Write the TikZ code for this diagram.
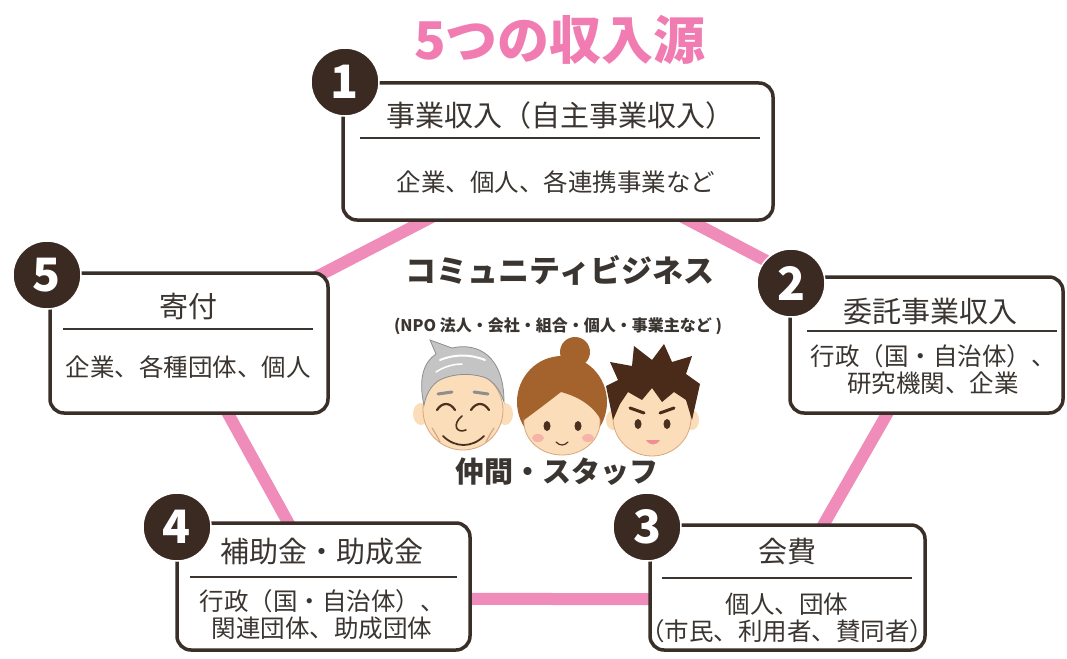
\documentclass[tikz,border=0pt]{standalone}
\usepackage{fontspec}
\newfontfamily\jp{Noto Sans CJK JP}
\pgfdeclarelayer{bg}
\pgfdeclarelayer{paper}
\pgfsetlayers{paper,bg,main}
\definecolor{boxc}{HTML}{3A2F28}
\definecolor{discc}{HTML}{3B2A22}
\definecolor{txtc}{HTML}{3A3530}
\definecolor{linkc}{HTML}{F08CBA}
\definecolor{titlec}{HTML}{F07CB2}
\definecolor{skin}{HTML}{FBDDB9}
\definecolor{skinline}{HTML}{D9A77C}
\definecolor{hairgrey}{HTML}{C4C4C4}
\definecolor{hairgreyd}{HTML}{8E8E8E}
\definecolor{hairbrown}{HTML}{A4622C}
\definecolor{hairdark}{HTML}{4A2A18}
\definecolor{eyec}{HTML}{4A3020}
\definecolor{cheek}{HTML}{F6B3A8}
\definecolor{lip}{HTML}{F08E98}
\tikzset{
  srcbox/.style={draw=boxc, line width=3.5pt, rounded corners=14pt, fill=white},
  numdisc/.style={circle, fill=discc, draw=white, line width=1.5pt, minimum size=68pt,
    inner sep=0pt, text=white, font=\jp\bfseries\fontsize{46}{46}\selectfont},
  ttl/.style={font=\jp\fontsize{29}{31}\selectfont, text=txtc, inner sep=0pt},
  subtxt/.style={font=\jp\fontsize{24.5}{27}\selectfont, text=txtc, align=center, inner sep=0pt},
  titlerule/.style={draw=txtc, line width=1.8pt},
  link/.style={draw=linkc, line width=12pt},
  bigbold/.style={font=\jp\bfseries\fontsize{31}{31}\selectfont, text=txtc, inner sep=0pt},
  faceline/.style={draw=skinline, line width=0.8pt},
  feature/.style={draw=eyec, line width=2.2pt, line cap=round},
}
\begin{document}
\begin{tikzpicture}[x=1pt,y=-1pt]
\begin{pgfonlayer}{paper}
\fill[white] (0,0) rectangle (1067,658);
\end{pgfonlayer}
\useasboundingbox (0,0) rectangle (1067,658);

% heading
\node[font=\jp\bfseries\fontsize{52}{52}\selectfont, text=titlec] (title) at (560,40) {5つの収入源};

% the five income boxes
\node[srcbox, minimum width=430pt, minimum height=137pt] (b1) at (558,151.5) {};
\node[srcbox, minimum width=273pt, minimum height=136pt] (b2) at (926.5,345) {};
\node[srcbox, minimum width=275pt, minimum height=125pt] (b3) at (787.5,587.5) {};
\node[srcbox, minimum width=293pt, minimum height=127pt] (b4) at (323.5,586.5) {};
\node[srcbox, minimum width=278pt, minimum height=140pt] (b5) at (189,343) {};

% pink pentagon joining the boxes
\begin{pgfonlayer}{bg}
\draw[link] (b1.center) -- (b2.center);
\draw[link] (b2.center) -- (b3.center);
\draw[link] ([yshift=-12pt]b3.center) -- ([yshift=-12pt]b4.center);
\draw[link] (b4.center) -- (b5.center);
\draw[link] (b5.center) -- (b1.center);
\end{pgfonlayer}

% box 1
\node[ttl] (t1) at (560,115) {事業収入（自主事業収入）};
\draw[titlerule] (360,138) -- (760,138);
\node[subtxt] (s1) at (556,182) {企業、個人、各連携事業など};
% box 2
\node[ttl] (t2) at (930,312) {委託事業収入};
\draw[titlerule] (807,331) -- (1057,331);
\node[subtxt] (s2) at (933,370) {行政（国・自治体）、\\研究機関、企業};
% box 3
\node[ttl] (t3) at (787,552) {会費};
\draw[titlerule] (662,578) -- (912,578);
\node[subtxt] (s3) at (787,618) {個人、団体\\（市民、利用者、賛同者）};
% box 4
\node[ttl] (t4) at (322,552) {補助金・助成金};
\draw[titlerule] (190,577) -- (457,577);
\node[subtxt] (s4) at (322,615) {行政（国・自治体）、\\関連団体、助成団体};
% box 5
\node[ttl] (t5) at (188,307) {寄付};
\draw[titlerule] (63,329) -- (313,329);
\node[subtxt] (s5) at (188,367) {企業、各種団体、個人};

% number discs
\node[numdisc] (n1) at (345,82) {1};
\node[numdisc] (n2) at (791,283) {2};
\node[numdisc] (n3) at (647,527) {3};
\node[numdisc] (n4) at (177,527) {4};
\node[numdisc] (n5) at (47,275) {5};

% centre texts
\node[bigbold] (cb) at (560,270) {コミュニティビジネス};
\node[font=\jp\bfseries\fontsize{16}{16}\selectfont, text=txtc] (org) at (558,326) {(NPO 法人・会社・組合・個人・事業主など )};
\node[bigbold, font=\jp\bfseries\fontsize{29}{29}\selectfont] (staff) at (557,472) {仲間・スタッフ};

% --- older man
\fill[skin] (421,414) ellipse[x radius=8, y radius=11];
\fill[skin] (505,414) ellipse[x radius=8, y radius=11];
\draw[faceline, fill=skin] (463,410) ellipse[x radius=40, y radius=40];
\draw[draw=hairgreyd, fill=hairgrey, line width=0.8pt]
  (424,405) .. controls (418,378) and (424,362) .. (436,354) -- (430,340) -- (452,348)
  .. controls (478,342) and (504,356) .. (504,402)
  .. controls (500,390) and (494,382) .. (486,378)
  .. controls (470,372) and (450,374) .. (438,381)
  .. controls (430,387) and (426,395) .. (424,405) -- cycle;
\draw[white, line width=2pt, line cap=round] (440,360) .. controls (455,354) and (470,354) .. (485,360);
\draw[white, line width=1.5pt, line cap=round] (436,372) .. controls (445,366) and (455,364) .. (462,364);
\draw[hairgreyd, line width=3pt, line cap=round] (438,394) -- (452,392);
\draw[hairgreyd, line width=3pt, line cap=round] (474,392) -- (488,394);
\draw[feature] (437,410) .. controls (442,402) and (450,402) .. (455,410);
\draw[feature] (471,410) .. controls (476,402) and (484,402) .. (489,410);
\draw[eyec, line width=1.6pt, line cap=round] (462,416) .. controls (452,424) and (456,434) .. (466,430);
\draw[eyec, line width=1.8pt, line cap=round] (443,436) .. controls (455,448) and (472,448) .. (484,436);
\draw[skinline, line width=1.2pt, line cap=round] (432,428) .. controls (436,434) and (438,438) .. (440,442);
\draw[skinline, line width=1.2pt, line cap=round] (494,428) .. controls (490,434) and (488,438) .. (486,442);

% --- woman
\fill[hairbrown] (562,402) ellipse[x radius=45, y radius=46];
\fill[hairbrown] (575,352) circle[radius=15];
\draw[faceline, fill=skin] (562,422) ellipse[x radius=38, y radius=33];
\fill[hairbrown] (524,420) .. controls (520,388) and (542,374) .. (564,374)
  .. controls (590,374) and (606,392) .. (601,420)
  .. controls (592,404) and (576,396) .. (561,392)
  .. controls (548,402) and (535,412) .. (524,420) -- cycle;
\fill[eyec] (547,426) ellipse[x radius=3.5, y radius=5];
\fill[eyec] (578,426) ellipse[x radius=3.5, y radius=5];
\fill[cheek] (538,438) ellipse[x radius=6, y radius=4];
\fill[cheek] (588,438) ellipse[x radius=6, y radius=4];
\draw[eyec, line width=1.2pt, line cap=round] (556,442) .. controls (560,446) and (564,446) .. (568,442);

% --- young man
\fill[skin] (613,420) ellipse[x radius=7, y radius=10];
\fill[skin] (692,420) ellipse[x radius=7, y radius=10];
\draw[faceline, fill=skin] (652,418) ellipse[x radius=39, y radius=38];
\fill[hairdark] (613,420) -- (606,386) -- (618,380) -- (610,362) -- (632,366) -- (634,346)
  -- (652,360) -- (664,344) -- (672,362) -- (692,356) -- (686,374) -- (700,384) -- (692,420)
  -- (686,400) -- (674,392) -- (662,402) -- (652,388) -- (642,400) -- (628,392) -- (620,404) -- cycle;
\draw[hairdark, line width=3pt, line cap=round] (630,408) -- (644,413);
\draw[hairdark, line width=3pt, line cap=round] (674,408) -- (660,413);
\fill[eyec] (638,424) ellipse[x radius=3.5, y radius=5];
\fill[eyec] (667,424) ellipse[x radius=3.5, y radius=5];
\fill[lip] (646,440) .. controls (650,446) and (656,446) .. (660,440) -- cycle;
\end{tikzpicture}
\end{document}
